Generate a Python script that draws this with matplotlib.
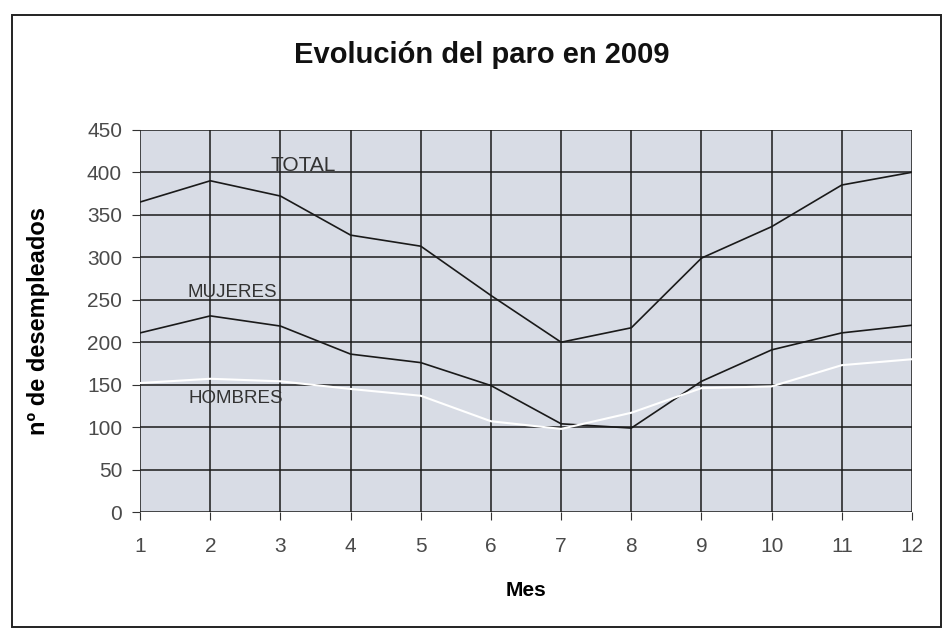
import numpy as np
import matplotlib.pyplot as plt
from matplotlib.patches import Rectangle

plt.rcParams['font.family'] = ['Liberation Sans', 'DejaVu Sans']

meses = [1, 2, 3, 4, 5, 6, 7, 8, 9, 10, 11, 12]
total = [365, 390, 372, 326, 313, 255, 200, 217, 299, 336, 385, 400]
mujeres = [211, 231, 219, 186, 176, 149, 104, 99, 154, 191, 211, 220]
hombres = [152, 157, 154, 145, 137, 107, 98, 117, 146, 148, 173, 180]

fig = plt.figure(figsize=(9.47, 6.3), dpi=100)
ax = fig.add_axes([0.148, 0.187, 0.815, 0.607])

# marco exterior
fig.patches.append(Rectangle((0.0127, 0.004), 0.981, 0.972, transform=fig.transFigure,
                             fill=False, edgecolor='#222222', linewidth=1.4))

ax.set_facecolor('#d8dce5')
ax.plot(meses, total, color='#1a1a1a', linewidth=1.2)
ax.plot(meses, mujeres, color='#1a1a1a', linewidth=1.2)
ax.plot(meses, hombres, color='white', linewidth=1.5)

ax.text(3.32, 408, 'TOTAL', ha='center', va='center', fontsize=15, color='#333333')
ax.text(2.31, 259, 'MUJERES', ha='center', va='center', fontsize=13.5, color='#333333')
ax.text(2.36, 134, 'HOMBRES', ha='center', va='center', fontsize=13.5, color='#333333')

ax.set_xlim(1, 12)
ax.set_ylim(0, 450)
ax.set_xticks(meses)
ax.set_yticks(np.arange(0, 451, 50))
ax.grid(True, color='#1a1a1a', linewidth=1.1)
ax.set_axisbelow(True)
for s in ax.spines.values():
    s.set_visible(False)
ax.tick_params(axis='both', labelsize=15, labelcolor='#4a4a4a', color='#333333',
               length=6, direction='out')
ax.tick_params(axis='x', pad=12)
ax.tick_params(axis='y', pad=7)

fig.text(0.509, 0.913, 'Evolución del paro en 2009', ha='center', va='center',
         fontsize=21, fontweight='bold', color='#111111')
ax.set_xlabel('Mes', fontsize=15, fontweight='bold', labelpad=18)
ax.set_ylabel('nº de desempleados', fontsize=17, fontweight='bold')
ax.yaxis.set_label_coords(-0.117, 0.5)

fig.savefig('out.png', dpi=100)
